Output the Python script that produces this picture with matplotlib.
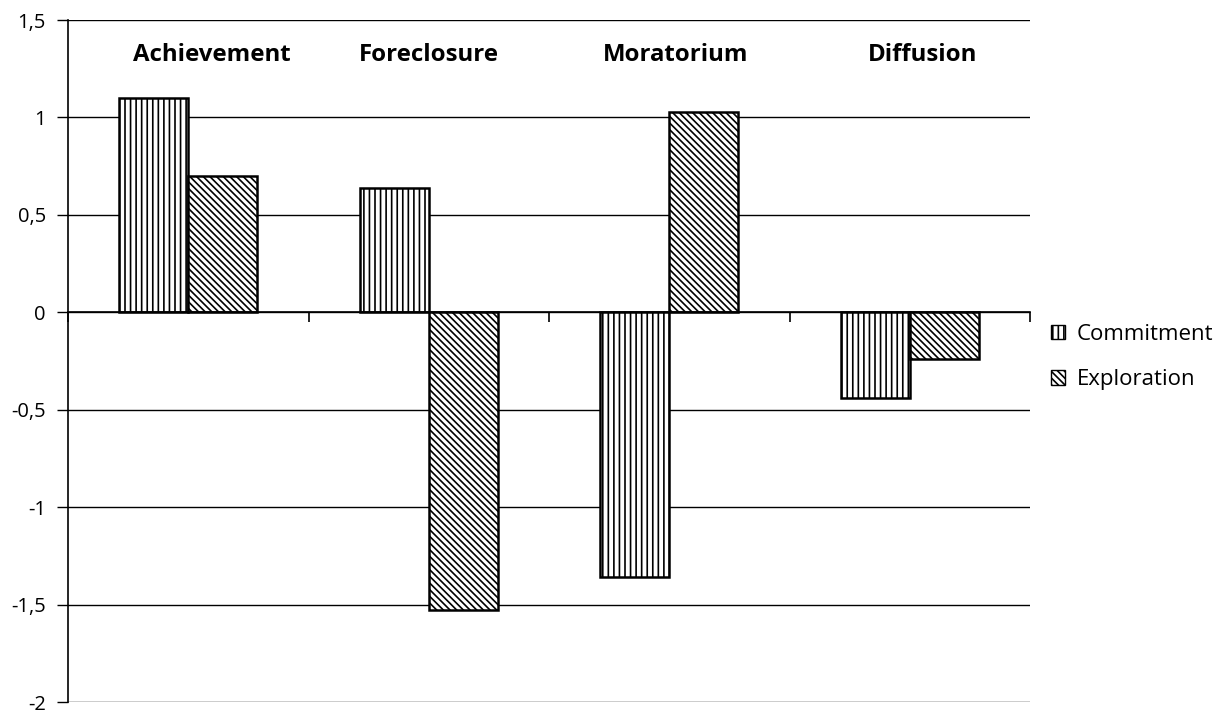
import matplotlib
matplotlib.use("Agg")
import matplotlib.pyplot as plt
import numpy as np
from matplotlib.patches import Patch

categories = ["Achievement", "Foreclosure", "Moratorium", "Diffusion"]
commitment = [1.10, 0.64, -1.36, -0.44]
exploration = [0.70, -1.53, 1.03, -0.24]
yticks = [-2, -1.5, -1, -0.5, 0, 0.5, 1, 1.5]
ytick_labels = ["-2", "-1,5", "-1", "-0,5", "0", "0,5", "1", "1,5"]

# layout: horizontal nudge of the header labels (fraction of a category slot)
label_nudge = [0.10, 0.0, 0.025, 0.055]

plt.rcParams['font.family'] = ['Open Sans', 'DejaVu Sans']
plt.rcParams['hatch.linewidth'] = 1.2

fig = plt.figure(figsize=(12.26, 7.11), dpi=100)
ax = fig.add_axes([68/1226, 1-702/711, (1030-68)/1226, (702-20)/711])

x = np.arange(len(categories))
w = 0.287
ax.bar(x - w/2, commitment, w, facecolor='white', edgecolor='black', linewidth=1.8, hatch='|||', zorder=3)
ax.bar(x + w/2, exploration, w, facecolor='white', edgecolor='black', linewidth=1.8, hatch='\\\\\\\\\\', zorder=3)

ax.set_xlim(-0.5, len(categories) - 0.5)
ax.set_ylim(-2, 1.5)
ax.set_yticks(yticks)
ax.set_yticklabels(ytick_labels, fontsize=14.5)
for yv in yticks:
    ax.axhline(yv, color='black', linewidth=1.0, zorder=1)

ax.spines['top'].set_visible(False)
ax.spines['right'].set_visible(False)
ax.spines['left'].set_linewidth(1.2)
ax.spines['bottom'].set_position(('data', 0))
ax.spines['bottom'].set_linewidth(1.2)
ax.spines['bottom'].set_zorder(4)
ax.set_xticks(np.arange(len(categories) + 1) - 0.5)
ax.set_xticklabels([])
ax.tick_params(axis='x', direction='out', length=7, width=1.2)
ax.tick_params(axis='y', direction='out', length=8, width=1.0, pad=8)

for i, c in enumerate(categories):
    ax.text(i + label_nudge[i], 1.32, c, ha='center', va='center', fontsize=17.3, fontweight='bold')

handles = [Patch(facecolor='white', edgecolor='black', hatch='|||', label='Commitment'),
           Patch(facecolor='white', edgecolor='black', hatch='\\\\\\\\\\', label='Exploration')]
fig.legend(handles=handles, loc='center left', bbox_to_anchor=(1031/1226, 1-357/711),
           frameon=False, fontsize=16.0, handlelength=0.65, handleheight=0.65,
           handletextpad=0.5, labelspacing=1.1)

fig.savefig("out.png", dpi=100)
